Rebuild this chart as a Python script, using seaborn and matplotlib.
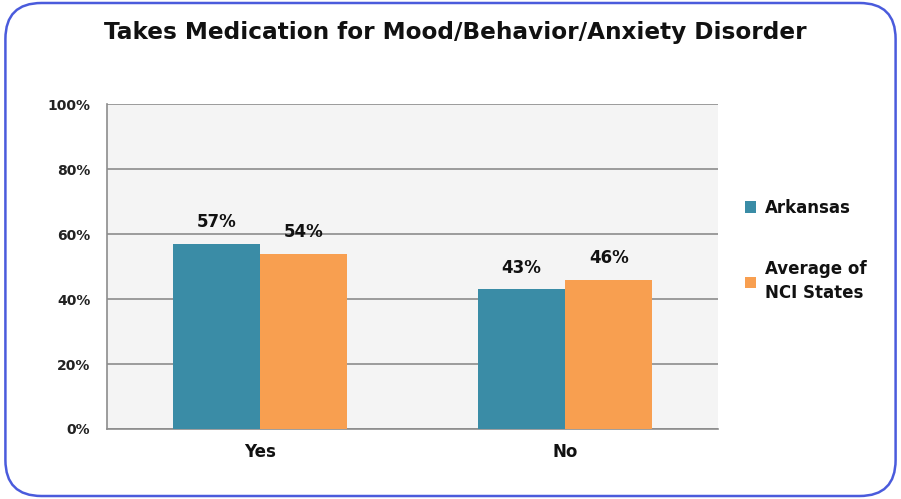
import matplotlib
matplotlib.use("Agg")
import matplotlib.pyplot as plt
import seaborn as sns
import pandas as pd
from matplotlib.patches import FancyBboxPatch
from matplotlib.ticker import FixedLocator

categories = ["Yes", "No"]
series_names = ["Arkansas", "Average of\nNCI States"]
arkansas = [57, 43]
nci_avg = [54, 46]
ytick_labels = ["0%", "20%", "40%", "60%", "80%", "100%"]

rows = []
for c, a, n in zip(categories, arkansas, nci_avg):
    rows.append({"cat": c, "series": series_names[0], "val": a})
    rows.append({"cat": c, "series": series_names[1], "val": n})
df = pd.DataFrame(rows)

sns.set_theme(style="white")
plt.rcParams['font.family'] = ['DejaVu Sans']

fig = plt.figure(figsize=(9.01, 4.99), dpi=100)
ax = fig.add_axes([0.1188, 0.1403, 0.678, 0.651])
ax.set_facecolor("#f4f4f4")

palette = {series_names[0]: "#3a8ca6", series_names[1]: "#f89f50"}
sns.barplot(data=df, x="cat", y="val", hue="series", order=categories,
            hue_order=series_names, palette=palette, width=0.57, gap=0,
            saturation=1, ax=ax, zorder=3, linewidth=0, edgecolor="none")

ax.set_ylim(0, 100)
ax.set_xlim(-0.5, 1.5)
ax.set_yticks([0, 20, 40, 60, 80, 100])
ax.set_yticklabels(ytick_labels, fontsize=10, fontweight="bold", color="#222222")
ax.yaxis.grid(True, color="#8c8c8c", linewidth=1.2, zorder=0)
ax.set_axisbelow(True)
ax.tick_params(axis="y", length=6, color="#8c8c8c", direction="out", pad=6)
ax.tick_params(axis="x", which="major", length=0, pad=10, labelsize=12)
ax.xaxis.set_minor_locator(FixedLocator([-0.5, 0.5, 1.5]))
ax.tick_params(axis="x", which="minor", length=5, color="#8c8c8c", direction="out")
for lab in ax.get_xticklabels():
    lab.set_fontweight("bold")
    lab.set_color("#111111")
ax.set_xlabel("")
ax.set_ylabel("")
for s in ["top", "right"]:
    ax.spines[s].set_visible(False)
for s in ["left", "bottom"]:
    ax.spines[s].set_color("#8c8c8c")
    ax.spines[s].set_linewidth(1.2)

for cont in ax.containers:
    for bar in cont:
        h = bar.get_height()
        ax.annotate(f"{h:.0f}%", (bar.get_x() + bar.get_width() / 2, h),
                    xytext=(0, 9), textcoords="offset points",
                    ha="center", va="bottom", fontsize=12, fontweight="bold",
                    color="#111111")

leg = ax.legend(loc="upper left", bbox_to_anchor=(1.019, 0.755), frameon=False,
                handlelength=0.7, handleheight=0.7, handletextpad=0.5,
                labelspacing=2.6, fontsize=12)
for t in leg.get_texts():
    t.set_fontweight("bold")
    t.set_color("#111111")
    t.set_linespacing(1.45)

fig.text(0.505, 0.935, "Takes Medication for Mood/Behavior/Anxiety Disorder",
         ha="center", va="center", fontsize=16.7, fontweight="bold", color="#111111")

border = FancyBboxPatch((0.006, 0.006), 0.988, 0.988,
                        boxstyle="round,pad=0,rounding_size=0.04",
                        transform=fig.transFigure, fill=False,
                        edgecolor="#4a5bdc", linewidth=1.8, mutation_aspect=1.8)
fig.patches.append(border)

fig.savefig("out.png", dpi=100)
